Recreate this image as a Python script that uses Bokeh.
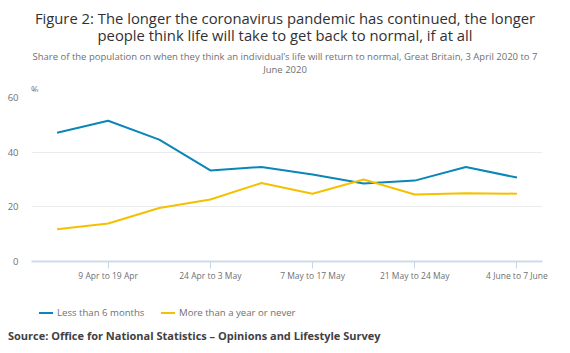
from bokeh.plotting import figure
from bokeh.models import FixedTicker, Range1d, Div
from bokeh.layouts import column
from bokeh.embed import file_html
from bokeh.resources import INLINE

periods = ["3 Apr to 13 Apr", "9 Apr to 19 Apr", "16 Apr to 27 Apr", "24 Apr to 3 May",
           "30 Apr to 10 May", "7 May to 17 May", "14 May to 17 May", "21 May to 24 May",
           "28 May to 31 May", "4 June to 7 June"]
less_than_6_months = [47.1, 51.5, 44.6, 33.3, 34.6, 31.8, 28.5, 29.6, 34.6, 30.7]
year_or_never = [11.8, 13.9, 19.6, 22.7, 28.7, 24.8, 30.0, 24.5, 25.0, 24.8]
y_ticks = [0, 20, 40, 60]
series_names = ["Less than 6 months", "More than a year or never"]
series_colors = ["#0a86b8", "#f5c000"]

title_lines = ["Figure 2: The longer the coronavirus pandemic has continued, the longer",
               "people think life will take to get back to normal, if at all"]
subtitle_lines = ["Share of the population on when they think an individual\u2019s life will return to normal, Great Britain, 3 April 2020 to 7",
                  "June 2020"]
source_text = "Source: Office for National Statistics \u2013 Opinions and Lifestyle Survey"

FONT = "'Open Sans'"
W = 570
HEAD_H = 91
FIG_H = 200
FOOT_H = 353 - HEAD_H - FIG_H
x = list(range(len(periods)))


def line_div(text, top, size, color, lh, align="center", left=0, weight="normal"):
    return (f'<div style="position:absolute;top:{top}px;left:{left}px;width:{W - left}px;'
            f'text-align:{align};font-size:{size}px;line-height:{lh}px;color:{color};'
            f'font-weight:{weight};white-space:nowrap;">{text}</div>')


head_html = (f'<div style="position:relative;width:{W}px;height:{HEAD_H}px;font-family:{FONT};">'
             + line_div("<br>".join(title_lines), 10, 14.8, "#323132", 17)
             + line_div("<br>".join(subtitle_lines), 49.5, 9.5, "#707071", 13)
             + line_div("%", 84, 9, "#707071", 12, align="left", left=31)
             + '</div>')
head = Div(text=head_html, width=W, height=HEAD_H, margin=(0, 0, 0, 0))

p = figure(width=W, height=FIG_H, output_backend="svg", toolbar_location=None,
           x_range=Range1d(-0.5, len(periods) - 0.5), y_range=Range1d(0, 60),
           min_border_left=31, min_border_right=28, min_border_top=6,
           min_border_bottom=FIG_H - 6 - 164, margin=(0, 0, 0, 0))
p.outline_line_color = None
p.background_fill_color = "white"
p.border_fill_color = "white"

p.line(x, less_than_6_months, line_color=series_colors[0], line_width=2)
p.line(x, year_or_never, line_color=series_colors[1], line_width=2)

p.xaxis.ticker = FixedTicker(ticks=[1, 3, 5, 7, 9])
p.xaxis.major_label_overrides = {i: periods[i] for i in range(len(periods))}
p.xaxis.axis_line_color = "#d0dbea"
p.xaxis.axis_line_width = 2
p.xaxis.major_tick_line_color = "#c8d6ea"
p.xaxis.major_tick_in = 0
p.xaxis.major_tick_out = 7
p.xaxis.minor_tick_line_color = None
p.xaxis.major_label_text_font = "Open Sans"
p.xaxis.major_label_text_font_size = "8.5px"
p.xaxis.major_label_text_color = "#707071"
p.xaxis.major_label_standoff = 1

p.yaxis.ticker = FixedTicker(ticks=y_ticks)
p.yaxis.axis_line_color = None
p.yaxis.major_tick_line_color = None
p.yaxis.minor_tick_line_color = None
p.yaxis.major_label_text_font = "Open Sans"
p.yaxis.major_label_text_font_size = "9.5px"
p.yaxis.major_label_text_color = "#707071"
p.yaxis.major_label_standoff = 7

p.xgrid.grid_line_color = None
p.ygrid.grid_line_color = "#ebebeb"
p.ygrid.grid_line_width = 1


def legend_entry(name, color, left):
    return (f'<div style="position:absolute;top:16px;left:{left}px;white-space:nowrap;'
            f'font-size:9.6px;line-height:12px;color:#707071;">'
            f'<span style="display:inline-block;width:14px;height:0;border-top:2px solid {color};'
            f'vertical-align:middle;margin-right:4px;"></span>{name}</div>')


foot_html = (f'<div style="position:relative;width:{W}px;height:{FOOT_H}px;font-family:{FONT};">'
             + legend_entry(series_names[0], series_colors[0], 39)
             + legend_entry(series_names[1], series_colors[1], 161)
             + line_div(source_text, 37, 11, "#414042", 16, align="left", left=8, weight="bold")
             + '</div>')
foot = Div(text=foot_html, width=W, height=FOOT_H, margin=(0, 0, 0, 0))

layout = column(head, p, foot, spacing=0, margin=(0, 0, 0, 0))

open("out.html", "w").write(file_html(layout, INLINE))
